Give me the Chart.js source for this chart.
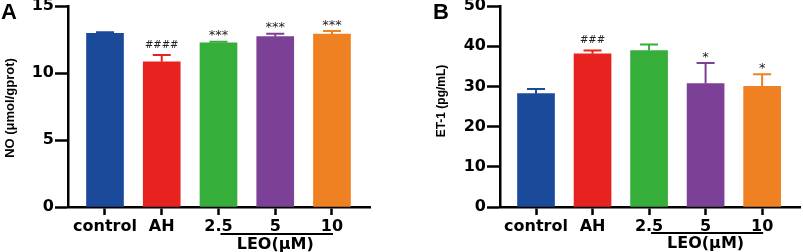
<!DOCTYPE html>
<html>
<head>
<meta charset="utf-8">
<script src="https://cdn.jsdelivr.net/npm/chart.js@4.4.1/dist/chart.umd.min.js"></script>
<style>
  body { margin: 0; background: #fff; }
  #wrap { position: relative; width: 803px; height: 252px; }
  canvas { position: absolute; top: 0; }
</style>
</head>
<body>
<div id="wrap">
  <canvas id="chartA" width="400" height="252" style="left:0"></canvas>
  <canvas id="chartB" width="403" height="252" style="left:400px"></canvas>
</div>
<script>
// data
const categories = ["control", "AH", "2.5", "5", "10"];
const barColors = ["#1b4a9b", "#e8221f", "#36ae3a", "#7c4096", "#f08122"];

const noMeans = [12.96, 10.84, 12.26, 12.71, 12.91];
const noSD = [0.09, 0.50, 0.08, 0.22, 0.22];
const noMarks = ["", "####", "***", "***", "***"];
const noTicks = [0, 5, 10, 15];

const etMeans = [28.2, 38.1, 38.9, 30.7, 30.0];
const etSD = [1.15, 0.85, 1.5, 5.1, 3.0];
const etMarks = ["", "###", "", "*", "*"];
const etTicks = [0, 10, 20, 30, 40, 50];

const tickFont = { family: "DejaVu Sans", size: 16, weight: "bold" };

// error whiskers (upper only) + significance marks + panel decorations
const extrasPlugin = {
    id: "extras",
    afterDatasetsDraw(chart, args, opts) {
        const ctx = chart.ctx;
        const yScale = chart.scales.y;
        const meta = chart.getDatasetMeta(0);
        meta.data.forEach(function (bar, i) {
            const top = yScale.getPixelForValue(opts.means[i] + opts.sd[i]);
            ctx.save();
            ctx.strokeStyle = barColors[i];
            ctx.lineWidth = 2;
            ctx.beginPath();
            ctx.moveTo(bar.x, bar.y);
            ctx.lineTo(bar.x, top);
            ctx.moveTo(bar.x - 9, top);
            ctx.lineTo(bar.x + 9, top);
            ctx.stroke();

            const mark = opts.marks[i];
            if (mark) {
                ctx.fillStyle = "#222";
                ctx.textAlign = "center";
                ctx.textBaseline = "alphabetic";
                if (mark[0] === "#") {
                    ctx.font = "10px 'DejaVu Sans'";
                    ctx.fillText(mark, bar.x, top - 11 + 3.6);
                } else {
                    ctx.font = "13px 'DejaVu Sans'";
                    ctx.fillText(mark, bar.x, top - 9 + 6.5);
                }
            }
            ctx.restore();
        });
    },
    afterDraw(chart, args, opts) {
        const ctx = chart.ctx;
        const xScale = chart.scales.x;
        ctx.save();
        // panel letter
        ctx.fillStyle = "#000";
        ctx.font = "bold 22px 'Liberation Sans'";
        ctx.textAlign = "left";
        ctx.textBaseline = "top";
        ctx.fillText(opts.letter, opts.letterX, 2);

        // y title
        ctx.save();
        ctx.translate(opts.titleX, opts.titleY);
        ctx.rotate(-Math.PI / 2);
        ctx.font = "bold " + opts.titleSize + "px 'Liberation Sans'";
        ctx.textAlign = "center";
        ctx.textBaseline = "middle";
        ctx.fillText(opts.title, 0, 0);
        ctx.restore();

        // LEO group bracket
        const x1 = xScale.getPixelForValue(2) + 2;
        const x2 = xScale.getPixelForValue(4) + 1;
        ctx.strokeStyle = "#000";
        ctx.lineWidth = 2;
        ctx.beginPath();
        ctx.moveTo(x1, opts.lineY);
        ctx.lineTo(x2, opts.lineY);
        ctx.stroke();
        ctx.font = "bold 16px 'DejaVu Sans'";
        ctx.textAlign = "center";
        ctx.textBaseline = "middle";
        ctx.fillText("LEO(\u03bcM)", xScale.getPixelForValue(3), opts.lineY + 11);
        ctx.restore();
    }
};

function makeChart(id, means, sd, marks, yTicks, yWidth, padRight, opts) {
    const points = means.map(function (v, i) { return { x: i, y: v }; });
    return new Chart(document.getElementById(id), {
        type: "bar",
        data: {
            datasets: [{
                data: points,
                backgroundColor: barColors,
                borderWidth: 0,
                barThickness: 37
            }]
        },
        options: {
            responsive: false,
            animation: false,
            devicePixelRatio: 1,
            layout: { padding: { left: 0, right: padRight, top: 6, bottom: 0 } },
            plugins: {
                legend: { display: false },
                tooltip: { enabled: false },
                extras: Object.assign({ means: means, sd: sd, marks: marks }, opts)
            },
            scales: {
                x: {
                    type: "linear",
                    min: opts.xMin,
                    max: 4.67,
                    offset: false,
                    z: 1,
                    afterBuildTicks: function (scale) {
                        scale.ticks = categories.map(function (c, i) { return { value: i }; });
                    },
                    afterFit: function (scale) {
                        scale.height = 45;
                        scale.paddingLeft = 0;
                        scale.paddingRight = 0;
                    },
                    ticks: {
                        autoSkip: false,
                        maxRotation: 0,
                        padding: 2,
                        color: "#000",
                        font: tickFont,
                        callback: function (v, i) { return categories[i]; }
                    },
                    grid: { offset: false, drawOnChartArea: false, tickLength: 8, tickWidth: 2.5, tickColor: "#000" },
                    border: { color: "#000", width: 2.5 }
                },
                y: {
                    min: 0,
                    max: yTicks[yTicks.length - 1],
                    z: 1,
                    afterBuildTicks: function (scale) {
                        scale.ticks = yTicks.map(function (v) { return { value: v }; });
                    },
                    afterFit: function (scale) {
                        scale.width = yWidth;
                        scale.paddingTop = 0;
                        scale.paddingBottom = 0;
                    },
                    ticks: { padding: 1, color: "#000", font: tickFont },
                    grid: { drawOnChartArea: false, tickLength: 13, tickWidth: 2.5, tickColor: "#000" },
                    border: { color: "#000", width: 2.5 }
                }
            }
        },
        plugins: [extrasPlugin]
    });
}

makeChart("chartA", noMeans, noSD, noMarks, noTicks, 68, 30, {
    xMin: -0.652, letter: "A", letterX: 1,
    title: "NO (\u03bcmol/gprot)", titleX: 10, titleY: 108, titleSize: 13,
    lineY: 234
});

makeChart("chartB", etMeans, etSD, etMarks, etTicks, 100, 3, {
    xMin: -0.637, letter: "B", letterX: 33,
    title: "ET-1 (pg/mL)", titleX: 42, titleY: 101, titleSize: 12,
    lineY: 233
});
</script>
</body>
</html>
